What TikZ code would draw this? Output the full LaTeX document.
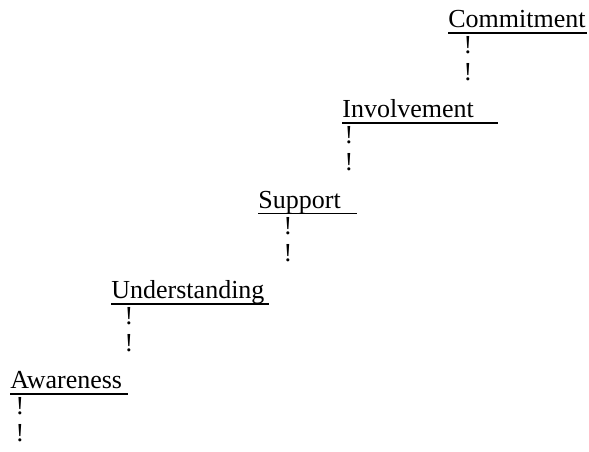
\documentclass[tikz,border=0pt]{standalone}
\usepackage{fontspec}
\setmainfont{Liberation Serif}
\begin{document}
\begin{tikzpicture}[x=0.5pt, y=-0.5pt,
        word/.style={anchor=base west, inner sep=0pt, font=\fontsize{13}{15}\selectfont},
        bang/.style={anchor=base, inner sep=0pt, font=\fontsize{13}{15}\selectfont},
        uline/.style={line width=0.75pt}]
        \useasboundingbox (0,0) rectangle (589,451);

        % Draw the steps, from the bottom up
        \node[word] (aware) at (10,388.5) {Awareness};
        \node[word] (underst) at (111,298.5) {Understanding};
        \node[word] (support) at (258,208) {Support};
        \node[word] (involve) at (342,117.5) {Involvement};
        \node[word] (commit) at (448,27.5) {Commitment};

        % Underline each step (some run past the word)
        \draw[uline] ([yshift=-2.75pt]aware.base west) -- ++(118,0);
        \draw[uline] ([yshift=-2.75pt]underst.base west) -- ++(158,0);
        \draw[uline] ([yshift=-2.75pt]support.base west) -- ++(99,0);
        \draw[uline] ([yshift=-2.75pt]involve.base west) -- ++(156,0);
        \draw[uline] ([yshift=-2.75pt]commit.base west) -- ++(139,0);

        % Marks below each step
        \node[bang] (aware-a) at (20,414.5) {!};
        \node[bang] (aware-b) at (20,441.5) {!};
        \node[bang] (underst-a) at (129,324.5) {!};
        \node[bang] (underst-b) at (129,351.5) {!};
        \node[bang] (support-a) at (288,234) {!};
        \node[bang] (support-b) at (288,261) {!};
        \node[bang] (involve-a) at (349,143.5) {!};
        \node[bang] (involve-b) at (349,170.5) {!};
        \node[bang] (commit-a) at (468,53.5) {!};
        \node[bang] (commit-b) at (468,80.5) {!};
    \end{tikzpicture}
\end{document}
